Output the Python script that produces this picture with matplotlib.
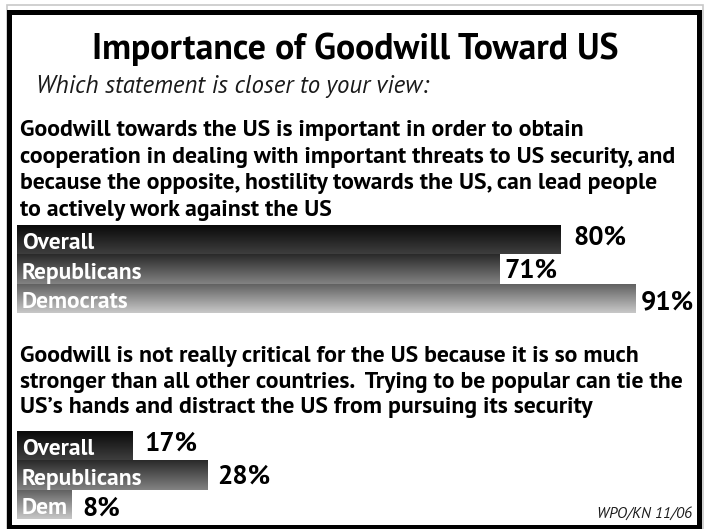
import matplotlib
matplotlib.use("Agg")
import matplotlib.pyplot as plt
import numpy as np
from matplotlib import font_manager as fm
from matplotlib.patches import Rectangle

title = "Importance of Goodwill Toward US"
subtitle = "Which statement is closer to your view:"
statement1 = ["Goodwill towards the US is important in order to obtain",
              "cooperation in dealing with important threats to US security, and",
              "because the opposite, hostility towards the US, can lead people",
              "to actively work against the US"]
statement2 = ["Goodwill is not really critical for the US because it is so much",
              "stronger than all other countries.  Trying to be popular can tie the",
              "US\u2019s hands and distract the US from pursuing its security"]
labels1 = ["Overall", "Republicans", "Democrats"]
values1 = [80, 71, 91]
labels2 = ["Overall", "Republicans", "Dem"]
values2 = [17, 28, 8]
source = "WPO/KN 11/06"

entries = {}
for f in fm.fontManager.ttflist:
    entries.setdefault(f.name, set()).add((f.style, int(f.weight) if str(f.weight).isdigit() else f.weight))

def has(name, style, weights):
    return any(s == style and w in weights for s, w in entries.get(name, ()))

def pick(cands, style, weights):
    for c in cands:
        if has(c, style, weights):
            return [c, 'DejaVu Sans']
    return ['DejaVu Sans']

cands = ['PT Sans', 'Source Sans Pro', 'Lato', 'Fira Sans', 'Open Sans', 'Noto Sans']
BODY = pick(cands, 'normal', (700,))
ITAL = pick(cands, 'italic', (400,))

W, H = 704, 529
fig = plt.figure(figsize=(W/100, H/100), dpi=100)
plt.rcParams['font.family'] = BODY
renderer = fig.canvas.get_renderer()

def fx(x): return x / W
def fy(y): return 1 - y / H

def fit(s, target_px, family, weight='bold', style='normal'):
    t = fig.text(0, 0, s, fontsize=20, family=family, fontweight=weight, style=style)
    w = t.get_window_extent(renderer).width
    t.remove()
    return 20 * target_px / w

# frame with light shadow
fig.patches.append(Rectangle((fx(7), fy(529)), fx(702.5)-fx(7), fy(4.5)-fy(529),
                             transform=fig.transFigure, fill=False, edgecolor='#c8c8c8',
                             linewidth=1.2, zorder=0))
fig.patches.append(Rectangle((fx(8.5), fy(526.5)), fx(698.5)-fx(8.5), fy(11.5)-fy(526.5),
                             transform=fig.transFigure, fill=False, edgecolor='#000000',
                             linewidth=3.6, zorder=0))

fs_title = fit(title, 526, BODY)
fig.text(fx(92), fy(59), title, ha='left', va='baseline', fontsize=fs_title,
         fontweight='bold', family=BODY)

fs_sub = fit(subtitle, 392, ITAL, weight='normal', style='italic')
fig.text(fx(36), fy(93), subtitle, ha='left', va='baseline', fontsize=fs_sub,
         style='italic', family=ITAL, color='#1a1a1a')

fs_body = fit(statement1[1], 654, BODY)
for i, line in enumerate(statement1):
    fig.text(fx(20), fy(136 + i*26.7), line, ha='left', va='baseline',
             fontsize=fs_body, fontweight='bold', family=BODY)
for i, line in enumerate(statement2):
    fig.text(fx(20), fy(362 + i*25.7), line, ha='left', va='baseline',
             fontsize=fs_body, fontweight='bold', family=BODY)

fs_src = fit(source, 95, ITAL, weight='normal', style='italic')
fig.text(fx(692), fy(518), source, ha='right', va='baseline', fontsize=fs_src,
         style='italic', family=ITAL, color='#1a1a1a')

fs_lab = fit("Republicans", 121, BODY)
fs_pct = fit("80%", 53, BODY)

grads = [('#080808', '#3e3e3e'), ('#2a2a2a', '#828282'), ('#5e5e5e', '#c8c8c8')]
pct_y = [0.68, 0.80, 0.88]

def hex2rgb(h):
    return np.array([int(h[i:i+2], 16) / 255 for i in (1, 3, 5)])

PX = 6.8  # pixels per percentage point

def draw_block(ytop, ybot, labels, values, pads_px):
    ax = fig.add_axes([fx(17), fy(ybot), 100 * PX / W, (ybot - ytop) / H])
    ax.axis('off')
    n = len(values)
    bars = ax.barh(range(n), values, height=1.0, color='none', edgecolor='none')
    for i, (b, lab, v) in enumerate(zip(bars, labels, values)):
        c0, c1 = hex2rgb(grads[i][0]), hex2rgb(grads[i][1])
        t = np.linspace(0, 1, 64)[:, None]
        img = (c0[None, :] * (1 - t) + c1[None, :] * t)[:, None, :]
        im = ax.imshow(img, extent=(0, v, i + 0.5, i - 0.5), aspect='auto',
                       interpolation='bilinear', zorder=1)
        im.set_clip_path(b)
        ax.text(5 / PX, i + 0.33, lab, ha='left', va='baseline', color='white',
                fontsize=fs_lab, fontweight='bold', family=BODY, zorder=3)
        ax.text(v + pads_px[i] / PX, i - 0.5 + pct_y[i], f"{v}%", ha='left',
                va='baseline', color='black', fontsize=fs_pct, fontweight='bold',
                family=BODY, zorder=3)
    ax.set_xlim(0, 100)
    ax.set_ylim(n - 0.5, -0.5)

draw_block(225, 313, labels1, values1, [12, 5, 5])
draw_block(431, 519, labels2, values2, [12, 10, 11])

fig.savefig("out.png", dpi=100)
